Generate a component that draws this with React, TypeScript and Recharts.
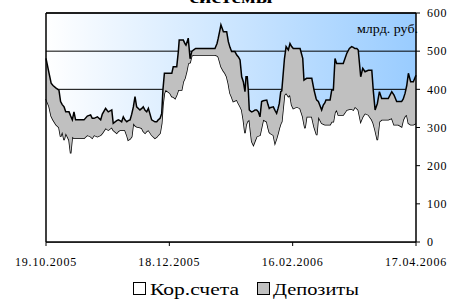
import React from 'react'
import { AreaChart, Area, XAxis, YAxis, CartesianGrid, ReferenceLine, Legend } from 'recharts'

// days since 19.10.2005
const days = [
  0, 1.5, 2.5, 3.4, 4.9, 6.3, 7.1, 7.9, 8.8, 9.6, 11.2, 12, 12.8, 13.6, 14.4, 16.5, 18.5, 20.1, 21.7, 22.5,
  23.4, 25, 26.6, 27.4, 29, 30.3, 32, 32.7, 34.4, 35.2, 36, 36.8, 37.6, 38.4, 39.3, 40, 40.9, 41.7, 42.5, 43.3,
  44.1, 45.7, 46.6, 47.3, 48.2, 49, 49.8, 51.4, 53, 53.9, 54.6, 55.5, 56.3, 56.9, 57.6, 58.2, 60.3, 61.2, 61.9, 62.8,
  63.6, 64.4, 64.8, 66, 66.8, 67.6, 68.1, 68.4, 69.2, 70.1, 70.9, 71.7, 72.8, 74.9, 77.4, 79.8, 82.2, 83.2, 83.8, 84.6,
  85.1, 86.3, 87.1, 87.9, 88.7, 89.5, 90.3, 91.1, 91.9, 92.8, 93.6, 94.4, 95.2, 96, 96.8, 97.3, 97.9, 98.4, 98.9, 99.5,
  100.1, 100.9, 101.7, 102.5, 103.3, 104.1, 104.9, 105.7, 107.4, 108, 108.6, 109, 110.6, 111.4, 112.2, 112.9, 113.5, 114.2, 114.7, 116,
  116.8, 117.9, 118.7, 119.5, 120.3, 122, 123.6, 124.9, 125.5, 126, 126.8, 129.3, 130.4, 131.4, 131.7, 132.5, 134.1, 134.9, 135.7, 136.2,
  138.2, 139, 139.8, 140.6, 141.4, 142.2, 144.6, 146.3, 147.6, 148.7, 149.5, 150.3, 151.2, 151.9, 153.1, 154.1, 155.2, 156.8, 158.5, 159.2,
  160.1, 161.2, 162.2, 163.3, 164.9, 166.5, 168.2, 169.3, 170.6, 171.4, 173, 173.8, 174.7, 175.5, 176.3, 177.4, 178.7, 180,
]

const korValues = [
  375, 355, 330, 320, 307, 300, 276, 289, 267, 285, 267, 232, 276, 272, 272, 272, 272, 280, 276, 272,
  280, 276, 280, 285, 298, 293, 300, 293, 285, 290, 293, 293, 293, 293, 280, 267, 270, 276, 311, 305,
  302, 300, 298, 290, 285, 290, 293, 280, 272, 275, 280, 285, 311, 360, 390, 398, 390, 381, 380, 376,
  385, 398, 398, 398, 420, 429, 440, 446, 468, 470, 488, 490, 490, 490, 490, 490, 490, 488, 485, 470,
  460, 448, 442, 433, 415, 390, 380, 368, 370, 372, 363, 355, 346, 320, 285, 305, 315, 318, 320, 290,
  263, 254, 265, 276, 278, 280, 300, 320, 315, 300, 288, 285, 280, 259, 272, 285, 298, 310, 315, 385,
  390, 381, 385, 359, 350, 354, 350, 328, 310, 298, 328, 328, 302, 285, 280, 328, 311, 309, 307, 307,
  307, 315, 315, 340, 346, 333, 333, 346, 348, 348, 346, 354, 350, 346, 315, 328, 337, 333, 320, 311,
  293, 267, 315, 320, 320, 320, 324, 307, 307, 307, 302, 320, 330, 333, 311, 307, 307, 311,
]

const depValues = [
  106, 87, 86, 90, 96, 98, 92, 71, 87, 56, 74, 98, 44, 69, 48, 48, 48, 50, 57, 52,
  44, 52, 40, 50, 52, 48, 46, 18, 33, 30, 25, 22, 35, 27, 35, 51, 50, 59, 43, 76,
  52, 46, 52, 64, 60, 51, 57, 40, 43, 40, 40, 39, 26, 40, 52, 44, 52, 61, 79, 83,
  74, 102, 131, 131, 109, 91, 76, 74, 66, 10, 11, 13, 17, 17, 17, 17, 17, 32, 49, 85,
  109, 103, 109, 118, 110, 120, 119, 131, 129, 118, 122, 122, 87, 100, 109, 128, 118, 82, 26, 53,
  78, 89, 81, 70, 63, 48, 68, 50, 57, 60, 62, 67, 74, 86, 65, 65, 65, 84, 81, 95,
  122, 122, 135, 153, 157, 153, 157, 153, 114, 128, 101, 101, 96, 91, 92, 40, 35, 50, 58, 65,
  65, 83, 83, 141, 122, 135, 135, 148, 159, 164, 164, 153, 157, 157, 118, 127, 109, 117, 130, 87,
  53, 96, 79, 56, 56, 56, 70, 78, 61, 61, 66, 55, 60, 77, 131, 113, 113, 126,
]

const xTicks = [0, 60, 120, 180]
const xTickLabels = ['19.10.2005', '18.12.2005', '16.02.2006', '17.04.2006']
const yTicks = [0, 100, 200, 300, 400, 500, 600]

const seriesNames = ['Кор.счета', 'Депозиты']
const seriesFills = ['#ffffff', '#c0c0c0']

const data = days.map((d, i) => ({ day: d, kor: korValues[i], dep: depValues[i] }))

const FONT = '"Liberation Serif", "Times New Roman", serif'

// legend laid out like the original: white box + text, grey box + text
const legendBoxX = [133, 257]
const legendTextX = [150, 273]
const legendTextLen = [89, 86]

const ChartLegend = () => (
  <svg width={451} height={24} style={{ display: 'block' }}>
    {seriesNames.map((name, i) => (
      <g key={name}>
        <rect x={legendBoxX[i] + 0.5} y={6.5} width={12} height={12} fill={seriesFills[i]} stroke="#000" strokeWidth={1} />
        <text x={legendTextX[i]} y={19} fontFamily={FONT} fontSize={17} fill="#000" textLength={legendTextLen[i]} lengthAdjust="spacingAndGlyphs">
          {name}
        </text>
      </g>
    ))}
  </svg>
)

export default function App() {
  return (
    <div style={{ position: 'absolute', left: 0, top: 0, width: 451, height: 304, background: '#fff' }}>
      <AreaChart width={451} height={304} data={data} margin={{ top: 13, right: 0, left: 46, bottom: 8 }}>
        <defs>
          <linearGradient id="bgGrad" x1="0" y1="0" x2="1" y2="0">
            <stop offset="0%" stopColor="#ffffff" />
            <stop offset="100%" stopColor="#99ccff" />
          </linearGradient>
        </defs>
        <CartesianGrid vertical={false} stroke="#000" fill="url(#bgGrad)" fillOpacity={1} />
        <XAxis
          type="number"
          dataKey="day"
          domain={[0, 180]}
          ticks={xTicks}
          tickFormatter={(v: number) => xTickLabels[xTicks.indexOf(v)]}
          tick={{ fontSize: 12, fill: '#000', fontFamily: FONT, letterSpacing: 0.8 }}
          axisLine={{ stroke: '#000', strokeWidth: 1.5 }}
          tickLine={{ stroke: '#000' }}
          tickSize={4}
          tickMargin={11}
          height={30}
          interval={0}
        />
        <YAxis
          orientation="right"
          type="number"
          domain={[0, 600]}
          ticks={yTicks}
          tick={{ fontSize: 12, fill: '#000', fontFamily: FONT, letterSpacing: 0.8 }}
          axisLine={{ stroke: '#000', strokeWidth: 1.5 }}
          tickLine={{ stroke: '#000' }}
          tickSize={4}
          tickMargin={7}
          width={35}
        />
        <Area
          type="linear"
          dataKey="kor"
          name={seriesNames[0]}
          stackId="a"
          stroke="#000"
          strokeWidth={1.5}
          fill={seriesFills[0]}
          fillOpacity={1}
          isAnimationActive={false}
          dot={false}
        />
        <Area
          type="linear"
          dataKey="dep"
          name={seriesNames[1]}
          stackId="a"
          stroke="#000"
          strokeWidth={1.5}
          fill={seriesFills[1]}
          fillOpacity={1}
          isAnimationActive={false}
          dot={false}
        />
        <ReferenceLine x={0} stroke="#000" strokeWidth={1.5} />
        <ReferenceLine y={600} stroke="#000" strokeWidth={1.5} />
        <Legend
          verticalAlign="bottom"
          content={<ChartLegend />}
          wrapperStyle={{ top: 276, left: 0, width: 451, height: 24 }}
        />
      </AreaChart>
      <svg width={451} height={304} style={{ position: 'absolute', left: 0, top: 0, pointerEvents: 'none' }}>
        <text x={231} y={3} textAnchor="middle" fontFamily={FONT} fontWeight="bold" fontSize={17} textLength={83} lengthAdjust="spacingAndGlyphs">
          системы
        </text>
        <text x={357} y={33} fontFamily={FONT} fontSize={13} textLength={61} lengthAdjust="spacingAndGlyphs">
          млрд. руб.
        </text>
      </svg>
    </div>
  )
}
